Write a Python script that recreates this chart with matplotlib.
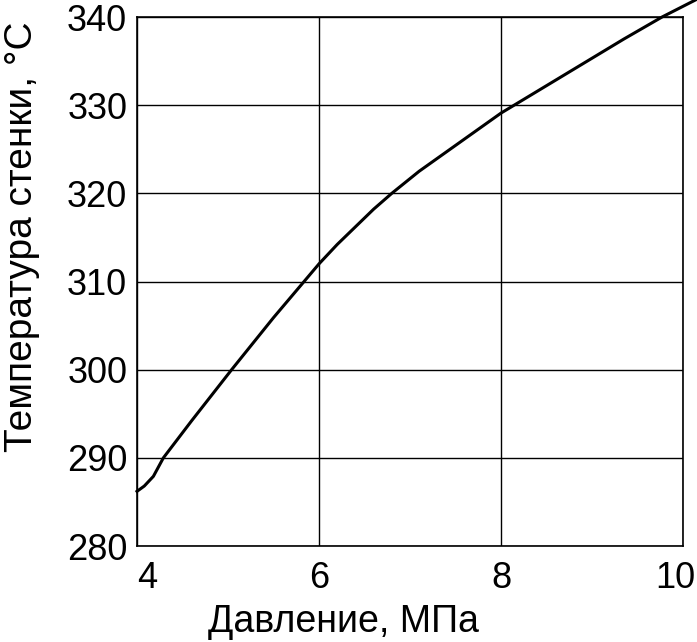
import matplotlib
matplotlib.use("Agg")
import matplotlib.pyplot as plt
from matplotlib.transforms import ScaledTranslation

pressure = [4.0, 4.08, 4.18, 4.29, 4.6, 5.04, 5.5, 6.0, 6.2, 6.4, 6.6, 6.8, 7.1, 7.4, 7.7, 8.0, 8.45, 8.9, 9.35, 9.77, 10.15]
wall_temp = [286.2, 286.8, 287.9, 290.0, 294.2, 300.0, 305.9, 312.0, 314.2, 316.2, 318.2, 320.0, 322.5, 324.7, 326.9, 329.1, 331.9, 334.7, 337.5, 340.0, 342.0]

x_ticks = [4, 6, 8, 10]
x_tick_labels = ["4", "6", "8", "10"]
y_ticks = [280, 290, 300, 310, 320, 330, 340]
y_tick_labels = ["280", "290", "300", "310", "320", "330", "340"]

xlabel = "Давление, МПа"
ylabel = "Температура стенки, °С"

plt.rcParams['font.family'] = ['Liberation Sans', 'DejaVu Sans']

W, H = 697, 642
fig = plt.figure(figsize=(W / 100, H / 100), dpi=100)
left, right, top, bottom = 137, 683, 17, 546
ax = fig.add_axes([left / W, 1 - bottom / H, (right - left) / W, (bottom - top) / H])

ax.plot(pressure, wall_temp, color='black', lw=2.2, clip_on=False, zorder=3,
        solid_joinstyle='round')

ax.set_xlim(4, 10)
ax.set_ylim(280, 340)
ax.set_xticks(x_ticks)
ax.set_xticklabels(x_tick_labels)
ax.set_yticks(y_ticks)
ax.set_yticklabels(y_tick_labels)
ax.grid(True, color='black', lw=1.0)
ax.tick_params(length=0, labelsize=26, colors='black')
ax.tick_params(axis='x', pad=11)
ax.tick_params(axis='y', pad=7)
for s in ax.spines.values():
    s.set_linewidth(1.2)
    s.set_color('black')

xl = ax.get_xticklabels()
xl[0].set_ha('left')
xl[-1].set_ha('right')
xl[-1].set_transform(xl[-1].get_transform() + ScaledTranslation(12 / 100, 0, fig.dpi_scale_trans))

fig.text(343 / W, 1 - 622 / H, xlabel, fontsize=27, ha='center', va='center')
fig.text(22 / W, 1 - 237 / H, ylabel, fontsize=28, ha='center', va='center', rotation=90)

fig.savefig("out.png", dpi=100)
